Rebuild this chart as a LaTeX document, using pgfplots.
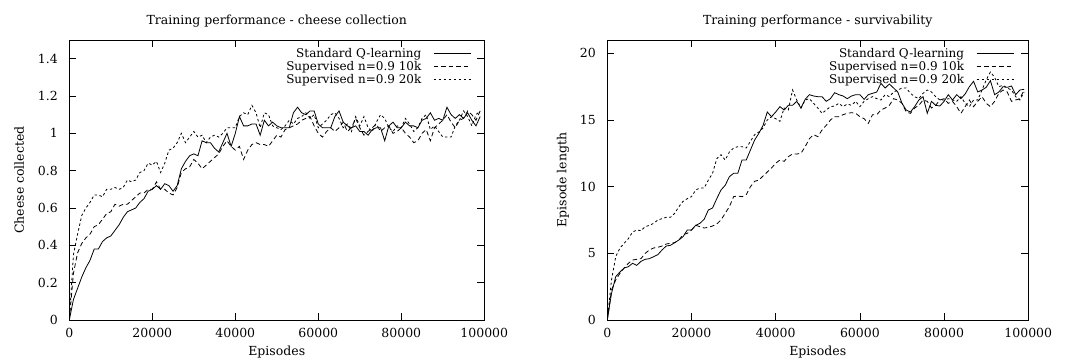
\documentclass[border=0pt]{standalone}
\usepackage{fontspec}
\setmainfont{DejaVu Serif}
\usepackage{pgfplots}
\usepackage{pgfplotstable}
\pgfplotsset{compat=1.18}

\pgfplotstableread{
x q a b
0 0 0 0
1000 0.11 0.25 0.35
2000 0.17 0.36 0.46
3000 0.23 0.41 0.56
4000 0.28 0.44 0.60
5000 0.32 0.46 0.63
6000 0.38 0.50 0.67
7000 0.38 0.51 0.67
8000 0.42 0.54 0.66
9000 0.44 0.57 0.70
10000 0.45 0.58 0.70
11000 0.48 0.62 0.71
12000 0.51 0.61 0.70
13000 0.55 0.62 0.71
14000 0.58 0.62 0.75
15000 0.59 0.64 0.74
16000 0.60 0.66 0.75
17000 0.63 0.68 0.79
18000 0.65 0.68 0.80
19000 0.69 0.70 0.84
20000 0.70 0.70 0.83
21000 0.72 0.74 0.85
22000 0.70 0.70 0.79
23000 0.73 0.70 0.84
24000 0.72 0.68 0.91
25000 0.69 0.67 0.92
26000 0.72 0.71 0.95
27000 0.81 0.79 1.00
28000 0.85 0.81 0.95
29000 0.88 0.82 0.98
30000 0.89 0.86 1.01
31000 0.88 0.84 0.98
32000 0.96 0.81 0.99
33000 0.95 0.83 0.95
34000 0.95 0.85 0.98
35000 0.92 0.87 0.99
36000 0.90 0.89 0.98
37000 0.95 0.93 1.00
38000 1.00 0.96 1.03
39000 0.93 0.93 1.03
40000 1.00 0.91 1.03
41000 1.09 0.93 1.09
42000 1.04 0.86 1.11
43000 1.04 0.91 1.10
44000 1.05 0.94 1.15
45000 1.05 0.95 1.11
46000 0.99 0.94 1.03
47000 1.07 0.94 1.11
48000 1.04 0.93 1.10
49000 1.06 0.96 1.04
50000 1.04 0.99 1.03
51000 1.03 0.98 1.02
52000 1.03 1.02 1.04
53000 1.03 1.03 1.07
54000 1.11 1.04 1.05
55000 1.14 1.05 1.08
56000 1.11 1.07 1.09
57000 1.10 1.08 1.11
58000 1.12 1.09 1.08
59000 1.12 1.04 1.10
60000 1.05 1.00 1.03
61000 1.03 0.98 1.05
62000 1.03 1.01 1.07
63000 1.03 1.03 1.10
64000 1.09 1.01 1.11
65000 1.12 1.03 1.08
66000 1.06 1.06 1.03
67000 1.04 1.01 1.05
68000 1.03 1.03 1.01
69000 1.04 1.08 1.09
70000 1.01 1.03 1.04
71000 1.01 0.99 1.09
72000 0.99 1.01 1.03
73000 1.02 1.03 1.01
74000 1.03 1.05 1.06
75000 1.03 1.01 1.10
76000 0.96 1.03 1.08
77000 1.04 1.04 1.03
78000 1.06 1.00 1.01
79000 1.03 1.01 1.04
80000 1.03 1.03 1.03
81000 1.06 1.00 1.08
82000 1.04 0.98 1.05
83000 1.04 0.95 1.01
84000 1.03 0.96 1.03
85000 1.07 1.00 1.08
86000 1.08 1.02 1.10
87000 1.11 0.96 1.02
88000 1.07 1.03 1.04
89000 1.08 1.05 1.01
90000 1.07 1.07 0.98
91000 1.14 1.10 0.98
92000 1.10 1.06 0.98
93000 1.08 1.03 1.04
94000 1.10 1.07 1.07
95000 1.08 1.08 1.12
96000 1.11 1.12 1.09
97000 1.07 1.10 1.04
98000 1.04 1.07 1.10
99000 1.09 1.12 1.12
}\cheese

\pgfplotstableread{
x q a b
0 0 0 0
1000 2.0 2.25 3.0
2000 3.25 3.0 4.75
3000 3.6 3.5 5.4
4000 3.9 3.9 5.75
5000 4.0 4.25 6.1
6000 4.25 4.5 6.6
7000 4.1 4.55 6.75
8000 4.4 4.6 6.7
9000 4.55 5.0 7.0
10000 4.6 5.25 7.1
11000 4.75 5.4 7.25
12000 4.9 5.45 7.5
13000 5.25 5.55 7.6
14000 5.55 5.7 7.7
15000 5.6 5.75 7.7
16000 5.8 5.8 8.0
17000 6.0 6.0 8.5
18000 6.25 6.4 8.9
19000 6.75 6.5 9.1
20000 6.75 6.75 9.25
21000 7.1 7.1 9.75
22000 7.25 7.0 9.9
23000 7.55 6.9 9.9
24000 8.25 6.95 10.5
25000 8.4 7.05 11.0
26000 9.1 7.2 12.1
27000 9.75 7.5 12.4
28000 10.1 8.0 12.0
29000 10.75 8.5 12.6
30000 11.0 9.25 12.9
31000 11.0 9.3 13.0
32000 12.0 9.25 13.0
33000 12.0 9.4 12.9
34000 12.75 10.0 13.4
35000 13.5 10.4 13.9
36000 14.0 10.5 14.1
37000 14.6 10.8 14.4
38000 15.6 11.1 15.0
39000 15.25 11.4 15.25
40000 15.6 11.75 15.1
41000 16.0 12.0 14.9
42000 15.75 11.9 15.9
43000 16.1 12.25 15.75
44000 16.1 12.45 17.25
45000 16.4 12.45 16.5
46000 15.9 12.5 15.9
47000 16.55 13.0 16.5
48000 16.9 13.6 16.6
49000 16.8 13.9 16.25
50000 16.75 13.75 15.9
51000 16.75 14.25 15.5
52000 16.4 14.6 15.75
53000 16.6 15.0 16.0
54000 17.05 15.25 16.05
55000 16.9 15.25 16.25
56000 16.8 15.4 16.0
57000 16.6 15.5 16.2
58000 16.8 15.55 16.1
59000 16.9 15.5 16.4
60000 16.9 15.25 16.0
61000 16.55 15.1 16.4
62000 16.9 14.75 16.6
63000 17.0 15.4 16.75
64000 17.1 15.4 16.6
65000 17.75 15.75 16.5
66000 17.4 15.9 16.9
67000 17.7 16.1 16.75
68000 17.4 16.6 17.1
69000 17.1 16.5 17.25
70000 16.25 16.25 17.4
71000 15.75 15.6 17.4
72000 15.6 15.5 17.0
73000 16.0 15.9 16.75
74000 16.5 16.1 16.6
75000 16.75 16.5 17.0
76000 15.5 16.4 17.25
77000 16.4 15.9 17.1
78000 16.1 16.1 16.75
79000 16.05 16.5 16.5
80000 16.4 16.6 16.5
81000 16.9 16.25 16.6
82000 16.5 16.4 16.5
83000 16.9 16.0 16.4
84000 16.6 15.5 16.75
85000 16.95 16.0 16.25
86000 17.5 16.5 16.0
87000 17.9 16.0 16.5
88000 17.1 16.4 16.5
89000 17.25 16.75 17.25
90000 17.45 16.25 18.0
91000 17.95 16.0 18.6
92000 16.9 16.4 18.2
93000 17.1 17.0 17.5
94000 17.5 17.25 17.6
95000 17.45 17.1 17.4
96000 17.55 16.4 17.25
97000 16.9 16.5 16.75
98000 17.25 16.6 16.5
99000 17.3 17.25 17.1
}\surv

\pgfplotsset{
  gp/.style={
    scale only axis,
    height=280pt,
    xmin=0, xmax=100000,
    xtick={0,20000,40000,60000,80000,100000},
    scaled x ticks=false, scaled y ticks=false,
    xticklabel style={/pgf/number format/fixed, /pgf/number format/1000 sep={}},
    /pgf/number format/assume math mode=true,
    tick align=inside, major tick length=7pt,
    tick style={black, line width=0.7pt},
    axis line style={black, line width=1pt},
    minor tick num=0,
    font=\fontsize{12.5pt}{13pt}\selectfont,
    tick label style={font=\fontsize{12.5pt}{13pt}\selectfont},
    label style={font=\fontsize{12.5pt}{13pt}\selectfont},
    yticklabel style={xshift=-8pt},
    xticklabel style={yshift=-5pt},
    every axis title/.style={at={(0.5,1.0536)}, anchor=base, font=\fontsize{12.5pt}{13pt}\selectfont},
    every axis x label/.style={at={(axis description cs:0.5,-0.128)}, anchor=base},
    legend plot pos=right,
    legend cell align=right,
    legend image code/.code={\draw[#1] (0pt,0pt) -- (37pt,0pt);},
    legend style={draw=none, fill=none, anchor=north east, column sep=12pt, row sep=0pt,
      font=\fontsize{12pt}{13pt}\selectfont,
      nodes={inner sep=0pt, text height=11pt, text depth=2pt}},
  },
  s0/.style={black, solid, no marks, line width=0.8pt},
  ds1/.style={black, no marks, line width=0.8pt, dash pattern=on 4.5pt off 3pt},
  ds2/.style={black, no marks, line width=0.8pt, dash pattern=on 2.5pt off 2.5pt},
}

\begin{document}
\begin{tikzpicture}
\path[use as bounding box] (0pt,0pt) rectangle (1072pt,360pt);
\begin{axis}[gp,
  at={(69.3pt,40pt)}, anchor=south west,
  width=415pt,
  ymin=0, ymax=1.5,
  ytick={0,0.2,0.4,0.6,0.8,1,1.2,1.4},
  yticklabel style={/pgf/number format/fixed},
  title={Training performance - cheese collection},
  xlabel={Episodes},
  ylabel={Cheese collected},
  every axis y label/.style={at={(axis description cs:-0.1205,0.5)}, rotate=90, anchor=center},
  legend style={at={(axis description cs:0.976,0.984)}},
]
\addplot[s0] table[x=x, y=q] {\cheese};
\addlegendentry{Standard Q-learning}
\addplot[ds1] table[x=x, y=a] {\cheese};
\addlegendentry{Supervised n=0.9 10k}
\addplot[ds2] table[x=x, y=b] {\cheese};
\addlegendentry{Supervised n=0.9 20k}
\end{axis}
\begin{axis}[gp,
  at={(607.3pt,40pt)}, anchor=south west,
  width=421pt,
  ymin=0, ymax=21,
  ytick={0,5,10,15,20},
  title={Training performance - survivability},
  xlabel={Episodes},
  ylabel={Episode length},
  every axis y label/.style={at={(axis description cs:-0.105,0.5)}, rotate=90, anchor=center},
  legend style={at={(axis description cs:0.9735,0.984)}},
]
\addplot[s0] table[x=x, y=q] {\surv};
\addlegendentry{Standard Q-learning}
\addplot[ds1] table[x=x, y=a] {\surv};
\addlegendentry{Supervised n=0.9 10k}
\addplot[ds2] table[x=x, y=b] {\surv};
\addlegendentry{Supervised n=0.9 20k}
\end{axis}
\end{tikzpicture}
\end{document}
